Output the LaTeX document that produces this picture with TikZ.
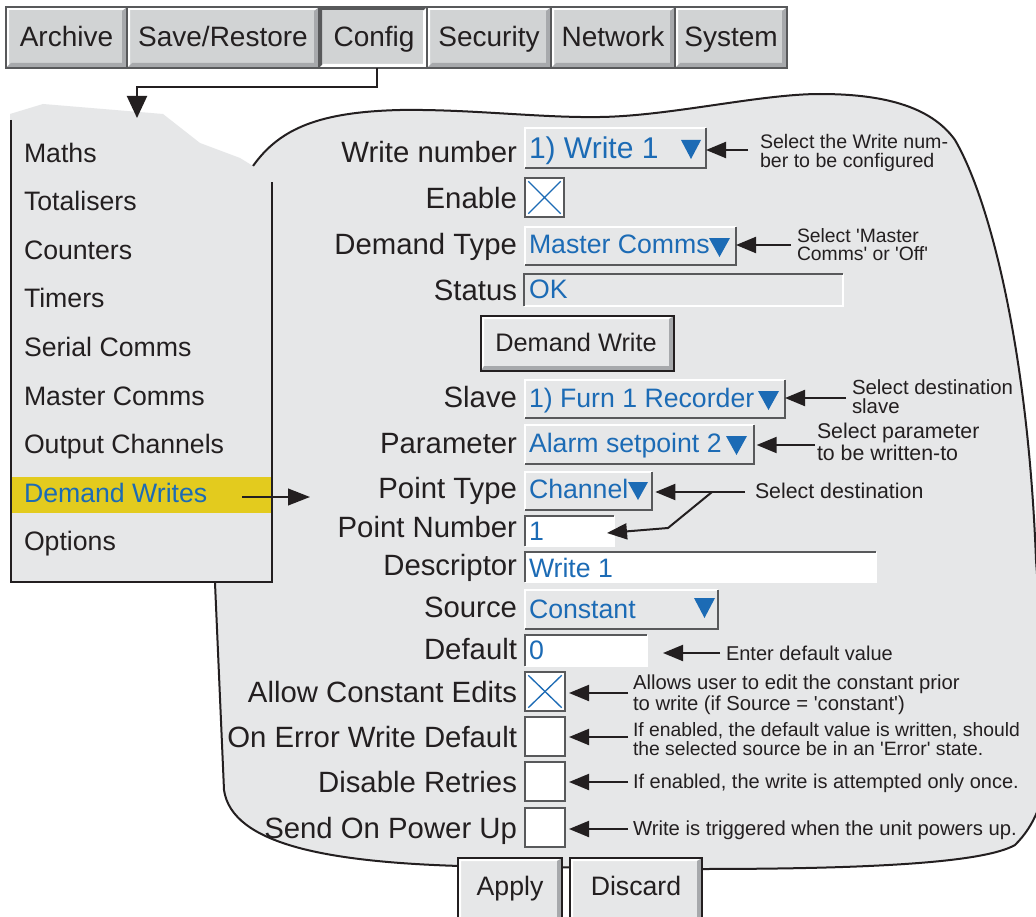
\documentclass[tikz,border=0pt]{standalone}
\usepackage{fontspec}
\setmainfont{Liberation Sans}[Ligatures=TeXOff]
\usetikzlibrary{arrows.meta}
\definecolor{panel}{HTML}{E6E7E8}
\definecolor{menugray}{HTML}{D1D3D4}
\definecolor{bevel}{HTML}{A7A9AC}
\definecolor{darkedge}{HTML}{58595B}
\definecolor{ink}{HTML}{231F20}
\definecolor{ublue}{HTML}{1C6BB5}
\definecolor{hiyellow}{HTML}{E3CB1E}

% raised push button: x0 y0 x1 y1
\newcommand{\uibtn}[4]{%
  \fill[panel] (#1,#2) rectangle (#3,#4);
  \fill[white] (#1,#2) -- (#3,#2) -- ({#3-3},{#2+3}) -- ({#1+3},{#2+3}) -- ({#1+3},{#4-3}) -- (#1,#4) -- cycle;
  \fill[bevel] (#3,#2) -- (#3,#4) -- (#1,#4) -- ({#1+3},{#4-5}) -- ({#3-5},{#4-5}) -- ({#3-5},{#2+3}) -- cycle;
  \draw[ink, line width=1pt] (#1,#2) rectangle (#3,#4);}
% top menu cell: x0 x1 text name
\newcommand{\topbtn}[4]{%
  \fill[menugray] ({#1+1},8) rectangle ({#2-1},67);
  \fill[white] ({#1+1},8) -- ({#2-1},8) -- ({#2-3},10) -- ({#1+3},10) -- ({#1+3},65) -- ({#1+1},67) -- cycle;
  \fill[bevel] ({#2-1},8) -- ({#2-1},67) -- ({#1+1},67) -- ({#1+5},63) -- ({#2-5},63) -- ({#2-5},11) -- cycle;
  \node[topf] (#4) at ({(#1+#2)/2},47) {#3};
  \draw[darkedge, line width=0.8pt] (#2,7) -- (#2,68);}
% raised drop-down field: name x0 y0 x1 y1
\newcommand{\ddfield}[5]{%
  \node[fieldbox, fill=panel, minimum width={(#4-#2)*0.75pt}, minimum height={(#5-#3)*0.75pt}] (#1) at (#2,#3) {};
  \draw[white, line width=1.2pt] (#1.south west) -- (#1.north west) -- (#1.north east);
  \draw[darkedge, line width=1.2pt] (#1.north east) -- (#1.south east) -- (#1.south west);}
% sunken field: name x0 y0 x1 y1 fill
\newcommand{\txfield}[6]{%
  \node[fieldbox, fill=#6, minimum width={(#4-#2)*0.75pt}, minimum height={(#5-#3)*0.75pt}] (#1) at (#2,#3) {};
  \draw[white, line width=1.2pt] (#1.north east) -- (#1.south east) -- (#1.south west);
  \draw[darkedge, line width=1.2pt] (#1.south west) -- (#1.north west) -- (#1.north east);}
% check box: name x0 y0 x1 y1
\newcommand{\chkbox}[5]{%
  \node[fieldbox, fill=white, draw=darkedge, line width=1pt, minimum width={(#4-#2)*0.75pt}, minimum height={(#5-#3)*0.75pt}] (#1) at (#2,#3) {};}
\newcommand{\chkcross}[1]{%
  \draw[ublue, line width=1pt] ([xshift=2.5pt,yshift=-2.5pt]#1.north west) -- ([xshift=-2.5pt,yshift=2.5pt]#1.south east)
    ([xshift=-2.5pt,yshift=-2.5pt]#1.north east) -- ([xshift=2.5pt,yshift=2.5pt]#1.south west);}
% drop-down triangle: x0 ytop x1 ybottom
\newcommand{\ddtri}[4]{\fill[ublue] (#1,#2) -- (#3,#2) -- ({(#1+#3)/2},#4) -- cycle;}

\begin{document}
\begin{tikzpicture}[x=0.75pt,y=-0.75pt,
  every node/.style={inner sep=0pt, outer sep=0pt},
  fieldbox/.style={anchor=north west, inner sep=0pt, outer sep=0pt},
  lab/.style={anchor=base east, text=ink, font=\fontsize{22}{26}\selectfont},
  val/.style={anchor=base west, text=ublue, font=\fontsize{20}{24}\selectfont},
  note/.style={anchor=base west, text=ink, font=\fontsize{15}{18}\selectfont},
  note2/.style={anchor=base west, align=left, text=ink},
  menuitem/.style={anchor=base west, text=ink, font=\fontsize{20}{24}\selectfont},
  topf/.style={anchor=base, text=ink, font=\fontsize{21}{25}\selectfont},
  btnf/.style={anchor=base, text=ink, font=\fontsize{19}{23}\selectfont},
  conn/.style={draw=ink, line width=1.5pt, -{Triangle[length=15pt,width=12pt]}},
  bigconn/.style={draw=ink, line width=1.5pt, -{Triangle[length=16.5pt,width=15pt]}},
  outline/.style={draw=ink, line width=1.5pt}]
\useasboundingbox (0,0) rectangle (1036,917);
\clip (0,0) rectangle (1036,917);
\fill[white] (0,0) rectangle (1036,917);

% ---------- top menu bar ----------
\fill[white] (6,7) rectangle (787,68);
\topbtn{6}{127}{Archive}{tArchive}
\topbtn{127}{319}{Save/Restore}{tSave}
% pressed Config
\fill[menugray] (320,8) rectangle (426,67);
\fill[darkedge] (320,8) -- (426,8) -- (424,10) -- (322,10) -- (322,65) -- (320,67) -- cycle;
\fill[white] (426,8) -- (426,67) -- (320,67) -- (323,64) -- (423,64) -- (423,11) -- cycle;
\node[topf] (tConfig) at (374,47) {Config};
\draw[darkedge, line width=0.8pt] (427,7) -- (427,68);
\topbtn{427}{551}{Security}{tSecurity}
\topbtn{551}{675}{Network}{tNetwork}
\topbtn{675}{787}{System}{tSystem}
\draw[darkedge, line width=0.8pt] (6,7) rectangle (787,68);

% ---------- blob panel ----------
\draw[outline, fill=panel] (253,166)
  .. controls (280,128) and (320,112) .. (400,110)
  .. controls (470,109) and (540,118) .. (600,117)
  .. controls (670,116) and (760,94) .. (820,94)
  .. controls (880,94) and (930,105) .. (955,140)
  .. controls (990,200) and (1028,350) .. (1036,560)
  .. controls (1040,620) and (1050,700) .. (1048,760)
  .. controls (1045,800) and (1035,825) .. (1015,845)
  .. controls (985,862) and (880,869) .. (700,869)
  -- (460,866)
  .. controls (330,862) and (232,845) .. (224,790)
  -- (215,583) -- (215,300) -- cycle;

% ---------- left menu ----------
\fill[panel] (10,114) -- (43,104) -- (163,114) -- (200,143) -- (240,158) -- (253,166) -- (272,182) -- (272,582) -- (10,582) -- cycle;
\fill[hiyellow] (12,477) rectangle (271,513);
\draw[outline] (11,120) -- (11,582) -- (272,582) -- (272,182);
\node[menuitem] (mMaths) at (24,162) {Maths};
\node[menuitem] (mTotal) at (24,210) {Totalisers};
\node[menuitem] (mCount) at (24,259) {Counters};
\node[menuitem] (mTimers) at (24,307) {Timers};
\node[menuitem] (mSerial) at (24,356) {Serial Comms};
\node[menuitem] (mMaster) at (24,405) {Master Comms};
\node[menuitem] (mOutput) at (24,453) {Output Channels};
\node[menuitem, text=ublue] (mDemand) at (24,502) {Demand Writes};
\node[menuitem] (mOptions) at (24,550) {Options};

% config arrow
\coordinate (cfgbot) at (377,68);
\coordinate (menutop) at (137,118);
\draw[bigconn] (cfgbot) -- ++(0,19) -| (menutop);
% demand writes arrow
\coordinate (dwstart) at (242,497);
\coordinate (dwend) at (310,497);
\draw[conn, -{Triangle[length=16.5pt,width=12.5pt]}] (dwstart) -- (dwend);

% ---------- form labels ----------
\node[lab] (lWN) at (517,162) {Write number};
\node[lab] (lEn) at (517,208) {Enable};
\node[lab] (lDT) at (517,254) {Demand Type};
\node[lab] (lSt) at (517,300) {Status};
\node[lab] (lSl) at (517,407) {Slave};
\node[lab] (lPa) at (517,453) {Parameter};
\node[lab] (lPT) at (517,498) {Point Type};
\node[lab] (lPN) at (517,537) {Point Number};
\node[lab] (lDe) at (517,575) {Descriptor};
\node[lab] (lSo) at (517,617) {Source};
\node[lab] (lDf) at (517,659) {Default};
\node[lab] (lAC) at (517,702) {Allow Constant Edits};
\node[lab] (lOE) at (517,747) {On Error Write Default};
\node[lab] (lDR) at (517,792) {Disable Retries};
\node[lab] (lSP) at (517,838) {Send On Power Up};

% ---------- fields ----------
\ddfield{fWN}{525}{128}{706}{168}
\node[val, font=\fontsize{22.5}{26}\selectfont] (vWN) at (529,158) {1) Write 1};
\ddtri{681}{140}{701}{159}

\chkbox{fEn}{525}{178}{564}{217}
\chkcross{fEn}

\ddfield{fDT}{525}{227}{736}{265}
\node[val] (vDT) at (529,253) {Master Comms};
\ddtri{709}{238}{730}{257}

\txfield{fSt}{524}{274}{843}{306}{panel}
\node[val] (vSt) at (529,298) {OK};

\uibtn{481}{316}{674}{371}
\node[btnf] (bDW) at (576,351) {Demand Write};

\ddfield{fSl}{525}{380}{785}{418}
\node[val] (vSl) at (529,407) {1) Furn 1 Recorder};
\ddtri{758}{391}{779}{410}

\ddfield{fPa}{525}{425}{754}{464}
\node[val] (vPa) at (529,452) {Alarm setpoint 2};
\ddtri{726}{436}{747}{455}

\ddfield{fPT}{525}{472}{652}{510}
\node[val] (vPT) at (529,498) {Channel};
\ddtri{628}{482}{648}{500}

\txfield{fPN}{525}{516}{614}{546}{white}
\node[val] (vPN) at (529,540) {1};

\txfield{fDe}{525}{552}{876}{582}{white}
\node[val] (vDe) at (529,577) {Write 1};

\ddfield{fSo}{525}{590}{718}{629}
\node[val] (vSo) at (529,618) {Constant};
\ddtri{694}{598}{715}{618}

\txfield{fDf}{525}{635}{647}{666}{white}
\node[val] (vDf) at (529,659) {0};

\chkbox{fAC}{525}{672}{565}{711}
\chkcross{fAC}
\chkbox{fOE}{525}{717}{565}{756}
\chkbox{fDR}{525}{762}{565}{801}
\chkbox{fSP}{525}{808}{565}{847}

% ---------- Apply / Discard ----------
\uibtn{458}{858}{562}{935}
\node[btnf, font=\fontsize{20}{24}\selectfont] (bApply) at (510,895) {Apply};
\uibtn{570}{858}{702}{935}
\node[btnf, font=\fontsize{20}{24}\selectfont] (bDiscard) at (636,895) {Discard};

% ---------- annotations (anchor = baseline of last line) ----------
\node[note2, font=\fontsize{14.7}{14.25}\selectfont] (n1) at (760,167) {Select the Write num-\\ber to be configured};
\node[note2, font=\fontsize{14.5}{13.5}\selectfont] (n2) at (797,260) {Select 'Master\\Comms' or 'Off'};
\node[note2, font=\fontsize{15.3}{14}\selectfont] (n3) at (852,413) {Select destination\\slave};
\node[note2, font=\fontsize{16}{13.5}\selectfont] (n4) at (817,460) {Select parameter\\to be written-to};
\node[note, font=\fontsize{16}{19}\selectfont] (n5) at (755,498) {Select destination};
\node[note] (n6) at (726,660) {Enter default value};
\node[note2, font=\fontsize{15.2}{13.5}\selectfont] (n7) at (633,710) {Allows user to edit the constant prior\\to write (if Source = 'constant')};
\node[note2, font=\fontsize{14.5}{14.25}\selectfont] (n8) at (633,755) {If enabled, the default value is written, should\\the selected source be in an 'Error' state.};
\node[note] (n9) at (633,788) {If enabled, the write is attempted only once.};
\node[note, font=\fontsize{15.2}{18}\selectfont] (n10) at (633,835) {Write is triggered when the unit powers up.};

% ---------- annotation connectors ----------
\coordinate (s1) at (748,150);
\draw[conn] (s1) -- (s1 -| fWN.east);
\coordinate (s2) at (791,245);
\draw[conn] (s2) -- (s2 -| fDT.east);
\coordinate (s3) at (846,398);
\draw[conn] (s3) -- (s3 -| fSl.east);
\coordinate (s4) at (815,445);
\draw[conn] (s4) -- ([xshift=2pt]s4 -| fPa.east);
\coordinate (s5) at (745,492);
\draw[conn] (s5) -- ([xshift=2.5pt]s5 -| fPT.east);
\coordinate (ptjoin) at (712,492);
\coordinate (ptbend) at (668,528);
\coordinate (pntip) at (607,533);
\draw[conn] (ptjoin) -- (ptbend) -- (pntip);
\coordinate (s6) at (720,653);
\draw[conn] (s6) -- ([xshift=12pt]s6 -| fDf.east);
\coordinate (s7) at (628,693);
\draw[conn] (s7) -- ([xshift=3pt]s7 -| fAC.east);
\coordinate (s8) at (628,737);
\draw[conn] (s8) -- ([xshift=3pt]s8 -| fOE.east);
\coordinate (s9) at (628,782);
\draw[conn] (s9) -- ([xshift=3pt]s9 -| fDR.east);
\coordinate (s10) at (628,829);
\draw[conn] (s10) -- ([xshift=3pt]s10 -| fSP.east);
\end{tikzpicture}
\end{document}
